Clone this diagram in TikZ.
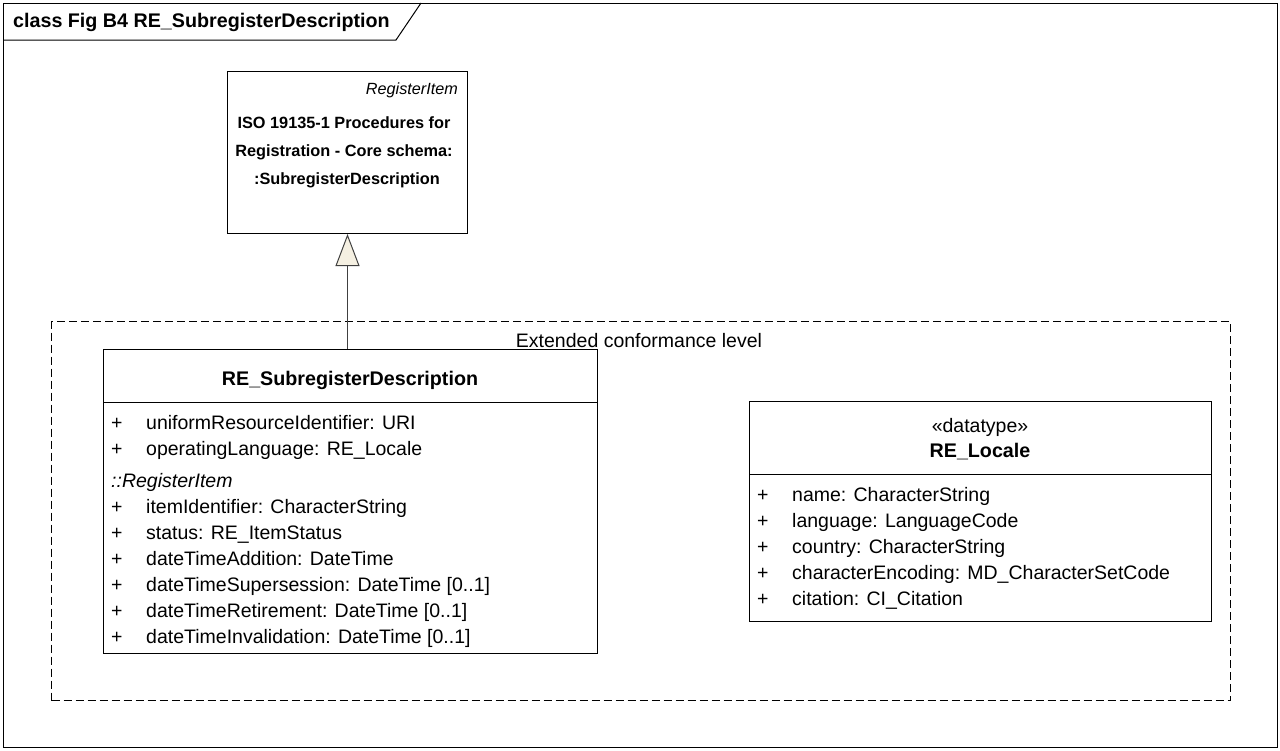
\documentclass[tikz,border=0pt]{standalone}
\usepackage{fontspec}
\setmainfont{Liberation Sans}
\usetikzlibrary{arrows.meta}
\definecolor{genfill}{RGB}{245,240,226}
\tikzstyle{umlbox}=[draw, line width=1pt, inner sep=0pt, anchor=north west]
\tikzstyle{attr}=[anchor=base west, inner sep=0pt, font=\fontsize{19.5}{23}\selectfont]
\tikzstyle{cname}=[anchor=base, inner sep=0pt, font=\bfseries\fontsize{19.7}{23}\selectfont]
\tikzstyle{pkgname}=[anchor=base, inner sep=0pt, font=\bfseries\fontsize{16.3}{20}\selectfont]
\tikzstyle{generalize}=[line width=1pt, draw=black!75, -{Triangle[length=32pt, width=24pt, fill=genfill]}]

\begin{document}
\begin{tikzpicture}[x=1pt, y=-1pt]
\useasboundingbox (0,0) rectangle (1280,750);
% diagram frame
\draw[line width=1pt] (3,3) rectangle (1277,747);
\draw[line width=1pt] (3,40) -- (396,40) -- (421,3);
\node[anchor=base west, inner sep=0pt, font=\bfseries\fontsize{19.7}{23}\selectfont] (title) at (13,27) {class Fig B4 RE\_SubregisterDescription};

% parent class
\node[umlbox, minimum width=240pt, minimum height=162pt] (regitem) at (227,71) {};
\node[anchor=base east, inner sep=0pt, font=\itshape\fontsize{16.2}{20}\selectfont] (regitemst) at (458,94) {RegisterItem};
\node[pkgname] (isoa) at (344,128) {ISO 19135-1 Procedures for};
\node[pkgname] (isob) at (344,156) {Registration - Core schema:};
\node[pkgname] (isoc) at (347,184) {:SubregisterDescription};

% boundary
\node[draw, line width=1pt, dashed, dash pattern=on 8pt off 4pt, inner sep=0pt, anchor=north west, minimum width=1179pt, minimum height=379pt] (ecl) at (51,321) {};
\node[anchor=base, inner sep=0pt, font=\fontsize{19.5}{23}\selectfont] (ecllabel) at (639,347) {Extended conformance level};

% RE_SubregisterDescription
\node[umlbox, fill=white, minimum width=494pt, minimum height=304pt] (subreg) at (103,349) {};
\draw[line width=1pt] (103,402) -- (597,402);
\node[cname] (subregname) at (350,385) {RE\_SubregisterDescription};
\node[attr] at (111,429) {+};
\node[attr] (sa1) at (146,429) {uniformResourceIdentifier: URI};
\node[attr] at (111,455) {+};
\node[attr] (sa2) at (146,455) {operatingLanguage: RE\_Locale};
\node[attr, font=\itshape\fontsize{19.5}{23}\selectfont] (sinh) at (111,487) {::RegisterItem};
\node[attr] at (111,513) {+};
\node[attr] (sa3) at (146,513) {itemIdentifier: CharacterString};
\node[attr] at (111,539) {+};
\node[attr] (sa4) at (146,539) {status: RE\_ItemStatus};
\node[attr] at (111,565) {+};
\node[attr] (sa5) at (146,565) {dateTimeAddition: DateTime};
\node[attr] at (111,591) {+};
\node[attr] (sa6) at (146,591) {dateTimeSupersession: DateTime [0..1]};
\node[attr] at (111,617) {+};
\node[attr] (sa7) at (146,617) {dateTimeRetirement: DateTime [0..1]};
\node[attr] at (111,643) {+};
\node[attr] (sa8) at (146,643) {dateTimeInvalidation: DateTime [0..1]};

% RE_Locale
\node[umlbox, fill=white, minimum width=462pt, minimum height=220pt] (locale) at (749,401) {};
\draw[line width=1pt] (749,474) -- (1211,474);
\node[anchor=base, inner sep=0pt, font=\fontsize{19.5}{23}\selectfont] (localest) at (980,432) {«datatype»};
\node[cname] (localename) at (980,457) {RE\_Locale};
\node[attr] at (757,501) {+};
\node[attr] (la1) at (792,501) {name: CharacterString};
\node[attr] at (757,527) {+};
\node[attr] (la2) at (792,527) {language: LanguageCode};
\node[attr] at (757,553) {+};
\node[attr] (la3) at (792,553) {country: CharacterString};
\node[attr] at (757,579) {+};
\node[attr] (la4) at (792,579) {characterEncoding: MD\_CharacterSetCode};
\node[attr] at (757,605) {+};
\node[attr] (la5) at (792,605) {citation: CI\_Citation};

% generalization
\draw[generalize] (subreg.north -| regitem.south) -- (regitem.south);
\end{tikzpicture}
\end{document}
